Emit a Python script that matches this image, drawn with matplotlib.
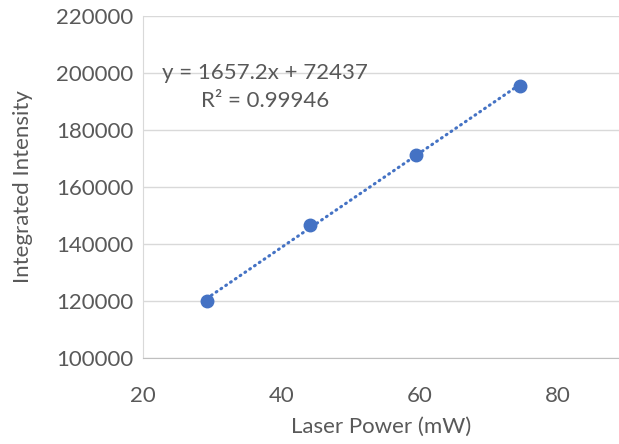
import matplotlib.pyplot as plt
import numpy as np

# data
laser_power = [29.2, 44.2, 59.5, 74.6]
intensity = [120100, 146600, 171400, 195500]
eq_text = 'y = 1657.2x + 72437'
r2_text = 'R² = 0.99946'
x_ticks = [20, 40, 60, 80]
y_ticks = [100000, 120000, 140000, 160000, 180000, 200000, 220000]

text_col = '#595959'
grid_col = '#d9d9d9'
blue = '#4472c4'

plt.rcParams['font.family'] = ['Lato', 'DejaVu Sans']
fs = 16

fig = plt.figure(figsize=(6.19, 4.44), dpi=100)
ax = fig.add_axes([143 / 619, 86 / 444, 476 / 619, 342 / 444])

# linear trendline across the data range
coef = np.polyfit(laser_power, intensity, 1)
xs = np.linspace(min(laser_power), max(laser_power), 50)
ax.plot(xs, np.polyval(coef, xs), color=blue, linewidth=2.2,
        linestyle=(0, (0.3, 1.6)), dash_capstyle='round', zorder=3)
ax.plot(laser_power, intensity, 'o', color=blue, markersize=9, zorder=4)

ax.set_xlim(20, 88.9)
ax.set_ylim(100000, 220000)
ax.set_xticks(x_ticks)
ax.set_yticks(y_ticks)
ax.grid(True, axis='y', color=grid_col, linewidth=1)
ax.set_axisbelow(True)
for side in ['top', 'right']:
    ax.spines[side].set_visible(False)
ax.spines['left'].set_color(grid_col)
ax.spines['bottom'].set_color('#bfbfbf')
ax.tick_params(length=0, colors=text_col, labelsize=fs)
ax.tick_params(axis='y', pad=7)
ax.tick_params(axis='x', pad=20)

ax.set_xlabel('Laser Power (mW)', color=text_col, fontsize=fs)
ax.set_ylabel('Integrated Intensity', color=text_col, fontsize=fs)
ax.xaxis.set_label_coords(0.5, -0.172)
ax.yaxis.set_label_coords(-0.232, 0.5)

ax.text(37.7, 200000, eq_text, color=text_col, fontsize=fs, ha='center', va='center')
ax.text(37.7, 190200, r2_text, color=text_col, fontsize=fs, ha='center', va='center')

fig.savefig('out.png', dpi=100)
